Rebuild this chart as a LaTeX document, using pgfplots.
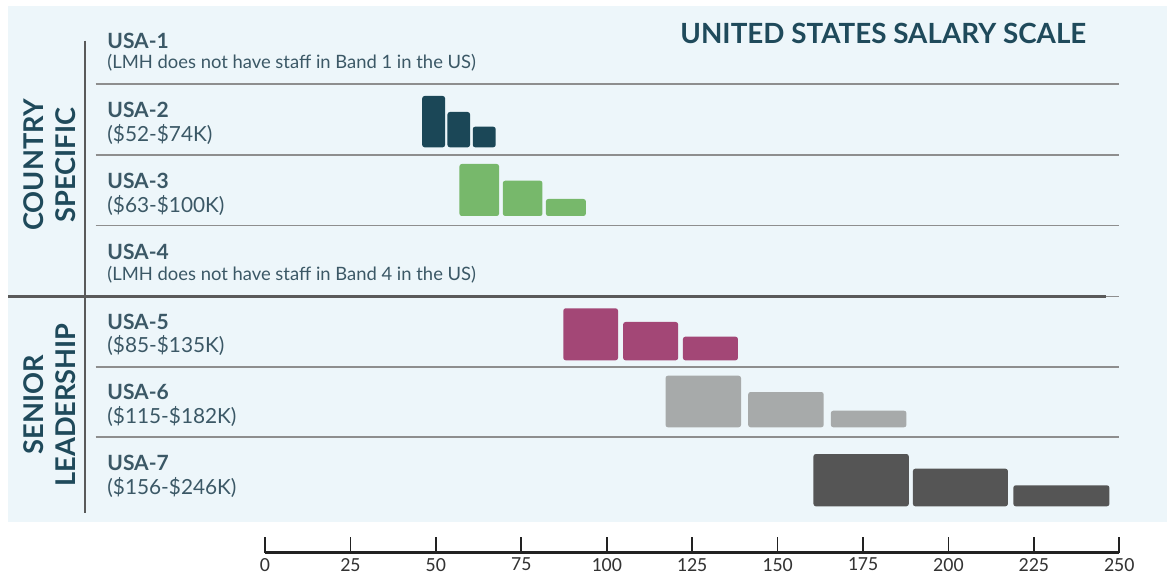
\documentclass[border=0pt]{standalone}
\usepackage{fontspec}
\setmainfont{Lato}
\newfontfamily\tickfont{Carlito}
\usepackage{pgfplots}
\pgfplotsset{compat=1.18}
\definecolor{panel}{HTML}{EDF6FA}
\definecolor{titlec}{HTML}{1F4A5B}
\definecolor{labelc}{HTML}{3B5866}
\definecolor{sepc}{HTML}{8E8E8E}
\definecolor{thickc}{HTML}{5A5A5A}
\definecolor{axdark}{HTML}{222222}
\definecolor{tickc}{HTML}{333333}
\definecolor{cA}{HTML}{1B4757}
\definecolor{cB}{HTML}{77B86B}
\definecolor{cC}{HTML}{A34776}
\definecolor{cD}{HTML}{A7AAAA}
\definecolor{cE}{HTML}{555555}
\pgfplotsset{sbar/.style={draw=none, mark=none, rounded corners=1.2pt}}
\begin{document}
\begin{tikzpicture}
\useasboundingbox (0,0) rectangle (586.5pt,288.5pt);
% canvas in pixel coordinates
\begin{axis}[at={(0pt,0pt)}, anchor=south west, scale only axis,
  width=586.5pt, height=288.5pt, xmin=0, xmax=1173, ymin=0, ymax=577,
  y dir=reverse, hide axis, clip=false]
\fill[panel] (axis cs:8,6) rectangle (axis cs:1167,521.7);
\draw[sepc, line width=0.8pt] (axis cs:95.7,84.3) -- (axis cs:1119.3,84.3);
\draw[sepc, line width=0.8pt] (axis cs:95.7,155) -- (axis cs:1119.3,155);
\draw[sepc, line width=0.8pt] (axis cs:95.7,225.7) -- (axis cs:1119.3,225.7);
\draw[sepc, line width=0.8pt] (axis cs:95.7,296.5) -- (axis cs:1119.3,296.5);
\draw[thickc, line width=1.5pt] (axis cs:8,296.5) -- (axis cs:1105.7,296.5);
\draw[sepc, line width=0.8pt] (axis cs:95.7,367) -- (axis cs:1119.3,367);
\draw[sepc, line width=0.8pt] (axis cs:95.7,437) -- (axis cs:1119.3,437);
\draw[thickc, line width=1.2pt] (axis cs:85,40.7) -- (axis cs:85,513);
\node[anchor=base west, inner sep=0, text=titlec, font=\bfseries\fontsize{13.9}{16}\selectfont] at (axis cs:680,43.3) {UNITED STATES SALARY SCALE};
\node[rotate=90, align=center, inner sep=0, text=titlec, font=\bfseries\fontsize{13.6}{16}\selectfont] at (axis cs:50,165) {COUNTRY\\SPECIFIC};
\node[rotate=90, align=center, inner sep=0, text=titlec, font=\bfseries\fontsize{13.6}{16}\selectfont] at (axis cs:50,405) {SENIOR\\LEADERSHIP};
\tikzset{lab/.style={anchor=base west, inner sep=0, text=labelc, font=\bfseries\fontsize{10.5}{12}\selectfont},
  sub/.style={anchor=base west, inner sep=0, text=labelc, font=\fontsize{10.4}{12}\selectfont},
  note/.style={anchor=base west, inner sep=0, text=labelc, font=\fontsize{9.2}{11}\selectfont}}
\node[lab] at (axis cs:107,48.3) {USA-1};
\node[note] at (axis cs:107,69) {(LMH does not have staff in Band 1 in the US)};
\node[lab] at (axis cs:107,117.3) {USA-2};
\node[sub] at (axis cs:107,141.7) {(\$52-\$74K)};
\node[lab] at (axis cs:107,188.3) {USA-3};
\node[sub] at (axis cs:107,212.3) {(\$63-\$100K)};
\node[lab] at (axis cs:107,260) {USA-4};
\node[note] at (axis cs:107,281) {(LMH does not have staff in Band 4 in the US)};
\node[lab] at (axis cs:107,329) {USA-5};
\node[sub] at (axis cs:107,352.7) {(\$85-\$135K)};
\node[lab] at (axis cs:107,400) {USA-6};
\node[sub] at (axis cs:107,423.3) {(\$115-\$182K)};
\node[lab] at (axis cs:107,470.7) {USA-7};
\node[sub] at (axis cs:107,494) {(\$156-\$246K)};
\end{axis}
% data axis: x in thousands of dollars, y in pixel rows
\begin{axis}[at={(132.5pt,0pt)}, anchor=south west, scale only axis,
  width=427.15pt, height=288.5pt, xmin=0, xmax=250, ymin=0, ymax=577,
  y dir=reverse, hide axis, clip=false]
% USA-2
\addplot[sbar, fill=cA] coordinates {(46.0,147.3) (46.0,96) (52.7,96) (52.7,147.3)} -- cycle;
\addplot[sbar, fill=cA] coordinates {(53.4,147.3) (53.4,112) (60.0,112) (60.0,147.3)} -- cycle;
\addplot[sbar, fill=cA] coordinates {(60.8,147.3) (60.8,126.7) (67.5,126.7) (67.5,147.3)} -- cycle;
% USA-3
\addplot[sbar, fill=cB] coordinates {(56.9,216) (56.9,164) (68.5,164) (68.5,216)} -- cycle;
\addplot[sbar, fill=cB] coordinates {(69.6,216) (69.6,180.7) (81.2,180.7) (81.2,216)} -- cycle;
\addplot[sbar, fill=cB] coordinates {(82.2,216) (82.2,199) (93.9,199) (93.9,216)} -- cycle;
% USA-5
\addplot[sbar, fill=cC] coordinates {(87.3,360.3) (87.3,308.3) (103.3,308.3) (103.3,360.3)} -- cycle;
\addplot[sbar, fill=cC] coordinates {(104.8,360.3) (104.8,322) (120.9,322) (120.9,360.3)} -- cycle;
\addplot[sbar, fill=cC] coordinates {(122.3,360.3) (122.3,336.7) (138.4,336.7) (138.4,360.3)} -- cycle;
% USA-6
\addplot[sbar, fill=cD] coordinates {(117.2,427.3) (117.2,375.7) (139.3,375.7) (139.3,427.3)} -- cycle;
\addplot[sbar, fill=cD] coordinates {(141.4,427.3) (141.4,392) (163.5,392) (163.5,427.3)} -- cycle;
\addplot[sbar, fill=cD] coordinates {(165.6,427.3) (165.6,410.7) (187.7,410.7) (187.7,427.3)} -- cycle;
% USA-7
\addplot[sbar, fill=cE] coordinates {(160.5,506.3) (160.5,454) (188.4,454) (188.4,506.3)} -- cycle;
\addplot[sbar, fill=cE] coordinates {(189.6,506.3) (189.6,468.7) (217.4,468.7) (217.4,506.3)} -- cycle;
\addplot[sbar, fill=cE] coordinates {(219.0,506.3) (219.0,485.3) (247.1,485.3) (247.1,506.3)} -- cycle;
\end{axis}
% tick axis
\begin{axis}[at={(132.5pt,12.15pt)}, anchor=south west, scale only axis,
  width=427.15pt, height=5pt, xmin=0, xmax=250, ymin=0, ymax=1,
  axis x line=bottom, axis y line=none, xtick={0,25,...,250},
  tick align=inside, major tick length=8pt,
  x axis line style={-, line width=1.2pt, color=axdark},
  tick style={line width=0.9pt, color=axdark},
  /pgf/number format/assume math mode=true,
  xticklabel style={font=\tickfont\fontsize{10}{12}\selectfont, text=tickc, inner sep=1pt, yshift=-1.5pt}]
\end{axis}
\end{tikzpicture}
\end{document}
